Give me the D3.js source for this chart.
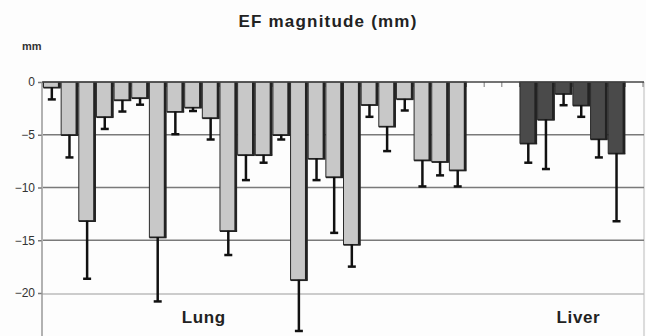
<!DOCTYPE html>
<html>
<head>
<meta charset="utf-8">
<script src="https://cdn.jsdelivr.net/npm/d3@7"></script>
<style>
  body { margin: 0; background: #fdfdfd; }
  text { font-family: "Liberation Sans", Arial, sans-serif; }
</style>
</head>
<body>
<script>
// EF magnitude per case, mm (mean and downward error)
var lungMean = [-0.5, -5.0, -13.15, -3.3, -1.7, -1.5, -14.7, -2.8, -2.4, -3.4, -14.1, -6.9,
                -6.9, -5.0, -18.75, -7.25, -9.0, -15.4, -2.15, -4.2, -1.6, -7.4, -7.55, -8.35];
var lungErr  = [1.15, 2.15, 5.5, 1.15, 1.1, 0.65, 6.1, 2.15, 0.35, 2.05, 2.3, 2.4,
                0.75, 0.45, 4.85, 2.05, 5.3, 2.1, 1.15, 2.35, 1.1, 2.5, 1.3, 1.55];
var liverMean = [-5.8, -3.55, -1.1, -2.2, -5.4, -6.75];
var liverErr  = [1.85, 4.7, 1.1, 1.1, 1.75, 6.45];
var yTicks = [0, -5, -10, -15, -20];
var groups = ["Lung", "Liver"];

var W = 646, H = 336;
var plotLeft = 43, plotRight = 643, plotTop = 82, plotBottom = 293;

var lungCats = lungMean.map(function(d, i){ return "lung" + (i + 1); });
var liverCats = liverMean.map(function(d, i){ return "liver" + (i + 1); });
var slots = lungCats.concat(["gap1", "gap2", "gap3"], liverCats, ["gap4"]);

var bars = [];
lungMean.forEach(function(v, i){ bars.push({cat: lungCats[i], v: v, e: lungErr[i], g: "lung"}); });
liverMean.forEach(function(v, i){ bars.push({cat: liverCats[i], v: v, e: liverErr[i], g: "liver"}); });

var x = d3.scaleBand().domain(slots).range([plotLeft, plotRight]).padding(0);
var y = d3.scaleLinear().domain([-20, 0]).range([plotBottom, plotTop]);

var svg = d3.select("body").append("svg")
    .attr("width", W)
    .attr("height", H);

svg.append("text")
    .attr("x", 328).attr("y", 27)
    .attr("text-anchor", "middle")
    .attr("font-size", 17).attr("font-weight", "bold")
    .attr("letter-spacing", 1.2)
    .attr("fill", "#222")
    .text("EF magnitude (mm)");

svg.append("text")
    .attr("x", 22).attr("y", 50)
    .attr("font-size", 11).attr("font-weight", "bold")
    .attr("fill", "#333")
    .text("mm");

// plot frame + grid
svg.append("line")
    .attr("x1", plotRight + 1).attr("x2", plotRight + 1)
    .attr("y1", plotTop).attr("y2", H)
    .attr("stroke", "#bbb").attr("stroke-width", 1);

svg.append("line")
    .attr("x1", plotLeft - 1).attr("x2", plotRight + 1)
    .attr("y1", plotBottom + 1).attr("y2", plotBottom + 1)
    .attr("stroke", "#bbb").attr("stroke-width", 1.5);

svg.selectAll(".grid")
    .data(yTicks.filter(function(t){ return t !== 0 && t !== -20; }))
    .enter().append("line")
    .attr("class", "grid")
    .attr("x1", plotLeft).attr("x2", plotRight + 1)
    .attr("y1", function(d){ return y(d); })
    .attr("y2", function(d){ return y(d); })
    .attr("stroke", "#7a7a7a").attr("stroke-width", 1.5);

// y axis
var yAxis = svg.append("g")
    .attr("transform", "translate(" + (plotLeft - 1) + ",0)")
    .call(d3.axisLeft(y).tickValues(yTicks).tickSize(4).tickPadding(3)
          .tickFormat(d3.format("d")));
yAxis.select(".domain").remove();
yAxis.selectAll(".tick line").attr("stroke", "#777").attr("stroke-width", 1.5);
yAxis.selectAll("text")
    .attr("font-size", 12)
    .attr("fill", "#333")
    .style("font-family", "'Liberation Sans', Arial, sans-serif");

svg.append("line")
    .attr("x1", plotLeft - 1).attr("x2", plotLeft - 1)
    .attr("y1", plotTop).attr("y2", H)
    .attr("stroke", "#999").attr("stroke-width", 1.5);

// category ticks under the zero line
svg.selectAll(".ctick")
    .data(slots.concat(["end"]))
    .enter().append("line")
    .attr("class", "ctick")
    .attr("x1", function(d, i){ return plotLeft + i * x.bandwidth(); })
    .attr("x2", function(d, i){ return plotLeft + i * x.bandwidth(); })
    .attr("y1", y(0)).attr("y2", y(0) + 5)
    .attr("stroke", "#777").attr("stroke-width", 1);

// bars
var bw = x.bandwidth();
var gBars = svg.selectAll(".bar")
    .data(bars)
    .enter().append("g")
    .attr("class", "bar");

gBars.append("rect")
    .attr("x", function(d){ return x(d.cat) + 0.5; })
    .attr("y", y(0))
    .attr("width", bw - 1)
    .attr("height", function(d){ return y(d.v) - y(0); })
    .attr("fill", function(d){ return d.g === "lung" ? "#c8c8c8" : "#4a4a4a"; })
    .attr("stroke", "#2a2a2a")
    .attr("stroke-width", 1);

// shadow edge on the right
gBars.append("line")
    .attr("x1", function(d){ return x(d.cat) + bw - 1.5; })
    .attr("x2", function(d){ return x(d.cat) + bw - 1.5; })
    .attr("y1", y(0))
    .attr("y2", function(d){ return y(d.v); })
    .attr("stroke", "#222").attr("stroke-width", 2.5);

gBars.append("line")
    .attr("x1", function(d){ return x(d.cat) + 0.5; })
    .attr("x2", function(d){ return x(d.cat) + bw; })
    .attr("y1", function(d){ return y(d.v) + 0.5; })
    .attr("y2", function(d){ return y(d.v) + 0.5; })
    .attr("stroke", "#222").attr("stroke-width", 1.5);

// error bars
gBars.append("line")
    .attr("x1", function(d){ return x(d.cat) + bw / 2; })
    .attr("x2", function(d){ return x(d.cat) + bw / 2; })
    .attr("y1", function(d){ return y(d.v); })
    .attr("y2", function(d){ return y(d.v - d.e); })
    .attr("stroke", "#111").attr("stroke-width", 2.5);

gBars.append("line")
    .attr("x1", function(d){ return x(d.cat) + bw / 2 - 4; })
    .attr("x2", function(d){ return x(d.cat) + bw / 2 + 4; })
    .attr("y1", function(d){ return y(d.v - d.e); })
    .attr("y2", function(d){ return y(d.v - d.e); })
    .attr("stroke", "#111").attr("stroke-width", 2.5);

// zero line on top
svg.append("line")
    .attr("x1", plotLeft - 1).attr("x2", plotRight + 1)
    .attr("y1", y(0)).attr("y2", y(0))
    .attr("stroke", "#444").attr("stroke-width", 1.5);

// group labels
var groupX = [x(lungCats[9]) + 2, x(liverCats[3]) + 6];
svg.selectAll(".glabel")
    .data(groups)
    .enter().append("text")
    .attr("class", "glabel")
    .attr("x", function(d, i){ return groupX[i]; })
    .attr("y", 323)
    .attr("text-anchor", "middle")
    .attr("font-size", 17).attr("font-weight", "bold")
    .attr("letter-spacing", 0.6)
    .attr("fill", "#222")
    .text(function(d){ return d; });
</script>
</body>
</html>
